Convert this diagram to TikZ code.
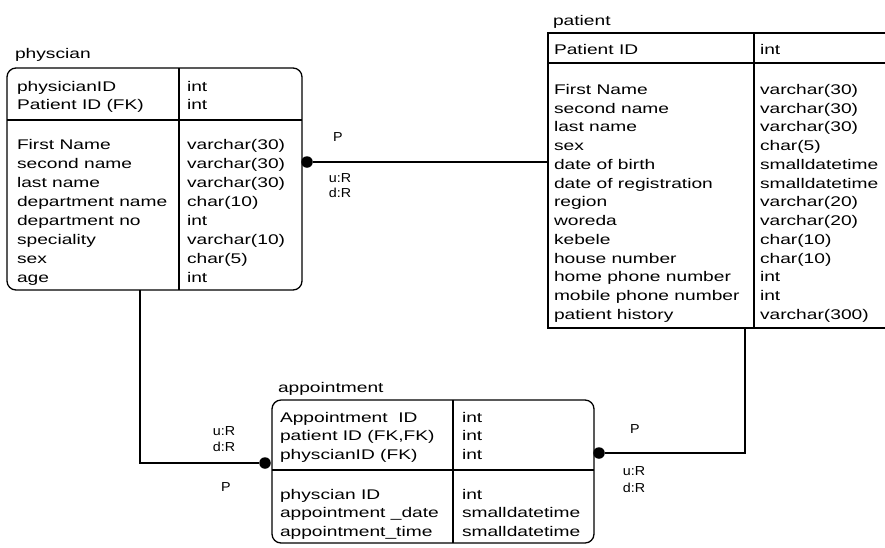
\documentclass[tikz,border=0pt]{standalone}
\usepackage{fontspec}
\setmainfont{Liberation Sans}[FakeStretch=1.37]
\newfontfamily\tagfont{Liberation Sans}[FakeStretch=1.1]
\begin{document}
\begin{tikzpicture}[x=1pt,y=-1pt,
  every node/.style={inner sep=0pt, outer sep=0pt},
  tablebox/.style={anchor=north west, line width=1.3pt},
  sep/.style={line width=1.3pt},
  title/.style={anchor=base west, font=\fontsize{14}{16}\selectfont},
  column/.style={anchor=north west, align=left},
  rel/.style={line width=1.4pt},
  tag/.style={font=\tagfont\fontsize{13}{15}\selectfont},
  joint/.style={circle, fill, minimum size=11.5pt}]
\useasboundingbox (0,0) rectangle (885,547);

% ---------- physcian ----------
\node[title] (physTitle) at (15,58.5) {physcian};
\node[tablebox, draw, rounded corners=9pt, minimum width=295pt, minimum height=222pt] (phys) at (7,68) {};
\draw[sep] (phys.west |- 0,120) -- (phys.east |- 0,120);
\draw[sep] (phys.north -| 179,0) -- (phys.south -| 179,0);
\node[column, font=\fontsize{14}{18}\selectfont] (physKeyName) at (17,81.3)
  {physicianID\\Patient ID (FK)};
\node[column, font=\fontsize{14}{18}\selectfont] (physKeyType) at (187,81.3)
  {int\\int};
\node[column, font=\fontsize{14}{19}\selectfont] (physAttrName) at (17,139.3)
  {First Name\\second name\\last name\\department name\\department no\\speciality\\sex\\age};
\node[column, font=\fontsize{14}{19}\selectfont] (physAttrType) at (187,139.3)
  {varchar(30)\\varchar(30)\\varchar(30)\\char(10)\\int\\varchar(10)\\char(5)\\int};

% ---------- patient ----------
\node[title] (patTitle) at (553,25) {patient};
\node[tablebox, minimum width=337pt, minimum height=295pt] (pat) at (548,33) {};
\draw[sep] (pat.north east) -- (pat.north west) -- (pat.south west) -- (pat.south east);
\draw[sep] (pat.west |- 0,63) -- (pat.east |- 0,63);
\draw[sep] (pat.north -| 754,0) -- (pat.south -| 754,0);
\node[column, font=\fontsize{14}{18}\selectfont] (patKeyName) at (554,44.3) {Patient ID};
\node[column, font=\fontsize{14}{18}\selectfont] (patKeyType) at (760,44.3) {int};
\node[column, font=\fontsize{14}{18.75}\selectfont] (patAttrName) at (554,84.3)
  {First Name\\second name\\last name\\sex\\date of birth\\date of registration\\region\\woreda\\kebele\\house number\\home phone number\\mobile phone number\\patient history};
\node[column, font=\fontsize{14}{18.75}\selectfont] (patAttrType) at (760,84.3)
  {varchar(30)\\varchar(30)\\varchar(30)\\char(5)\\smalldatetime\\smalldatetime\\varchar(20)\\varchar(20)\\char(10)\\char(10)\\int\\int\\varchar(300)};

% ---------- appointment ----------
\node[title] (appTitle) at (278,392) {appointment};
\node[tablebox, draw, rounded corners=9pt, minimum width=322pt, minimum height=143pt] (app) at (272,400) {};
\draw[sep] (app.west |- 0,470) -- (app.east |- 0,470);
\draw[sep] (app.north -| 453,0) -- (app.south -| 453,0);
\node[column, font=\fontsize{14}{18.5}\selectfont] (appKeyName) at (280,412.3)
  {Appointment\ \ ID\\patient ID (FK,FK)\\physcianID (FK)};
\node[column, font=\fontsize{14}{18.5}\selectfont] (appKeyType) at (462,412.3)
  {int\\int\\int};
\node[column, font=\fontsize{14}{18.5}\selectfont] (appAttrName) at (280,489.3)
  {physcian ID\\appointment \_date\\appointment\_time};
\node[column, font=\fontsize{14}{18.5}\selectfont] (appAttrType) at (462,489.3)
  {int\\smalldatetime\\smalldatetime};

% ---------- relationships ----------
\node[joint] (dotA) at (307,162) {};
\draw[rel] (dotA) -- (pat.west |- dotA);
\node[tag] (pA) at (338,137) {P};
\node[tag] (uA) at (340,178) {u:R};
\node[tag] (dA) at (340,193) {d:R};

\node[joint] (dotB) at (265,463) {};
\draw[rel] (phys.south -| 140,0) |- (dotB);
\node[tag] (uB) at (224,431) {u:R};
\node[tag] (dB) at (224,447) {d:R};
\node[tag] (pB) at (226,487) {P};

\node[joint] (dotC) at (599,453) {};
\draw[rel] (pat.south -| 745,0) |- (dotC);
\node[tag] (pC) at (635,429) {P};
\node[tag] (uC) at (634,471) {u:R};
\node[tag] (dC) at (634,488) {d:R};
\end{tikzpicture}
\end{document}
